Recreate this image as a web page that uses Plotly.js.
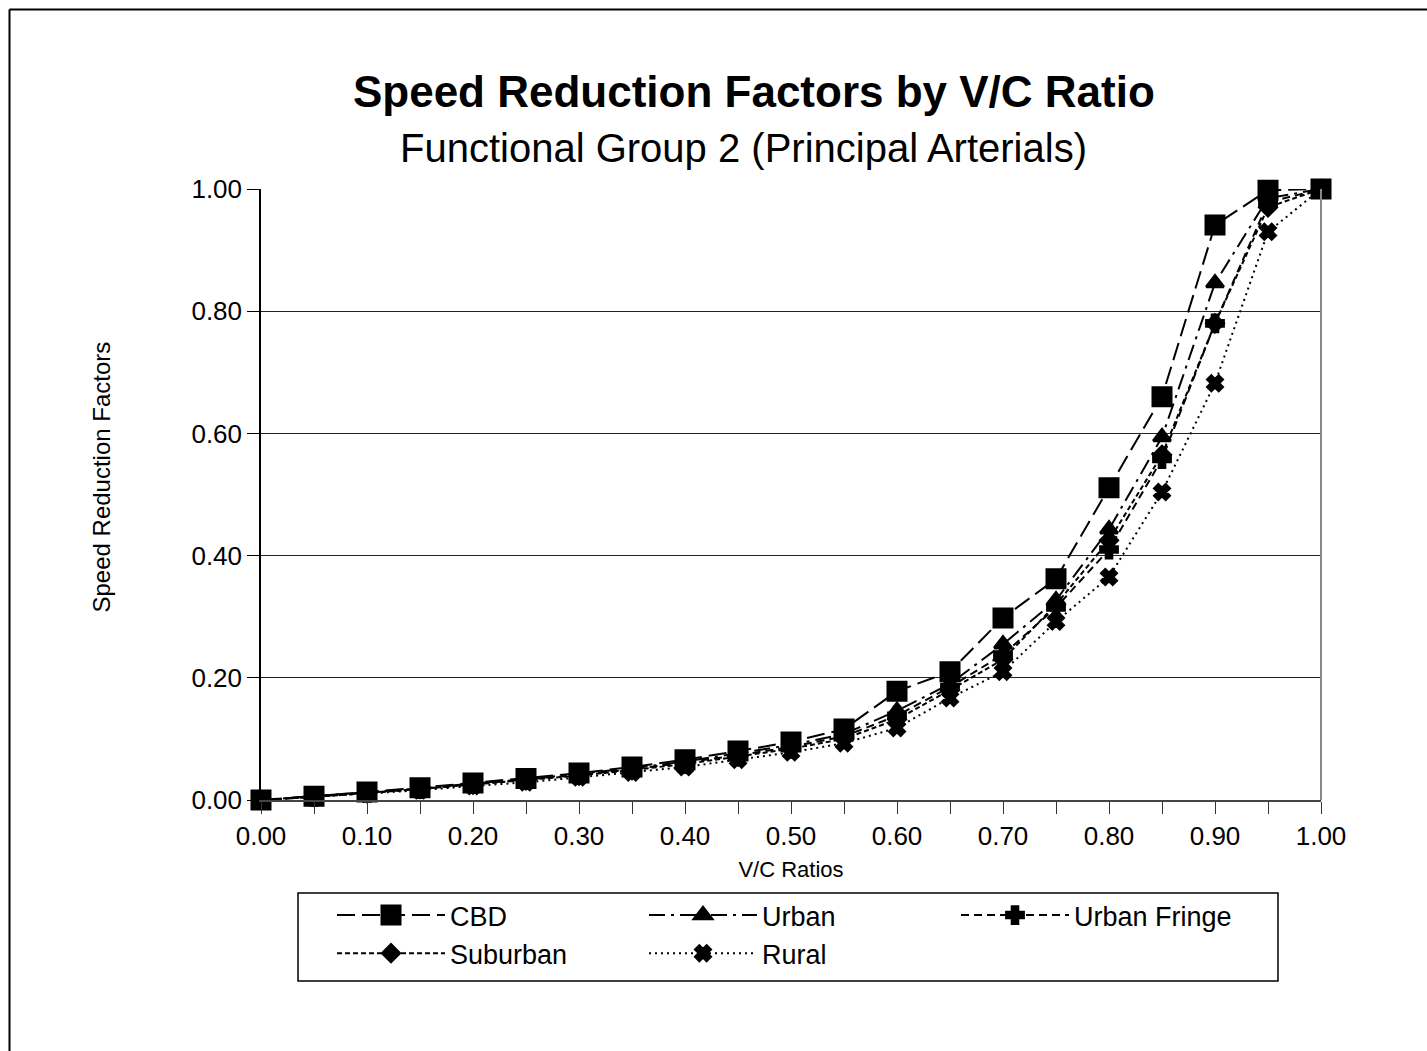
<!DOCTYPE html>
<html>
<head>
<meta charset="utf-8">
<script src="https://cdn.plot.ly/plotly-3.0.1.min.js"></script>
<style>html,body{margin:0;padding:0;background:#fff;}#chart{width:1427px;height:1051px;}</style>
</head>
<body>
<div id="chart"></div>
<script>
const vcRatios = [0.00,0.05,0.10,0.15,0.20,0.25,0.30,0.35,0.40,0.45,0.50,0.55,0.60,0.65,0.70,0.75,0.80,0.85,0.90,0.95,1.00];
const cbd         = [0,0.006,0.013,0.020,0.028,0.035,0.044,0.054,0.066,0.080,0.095,0.116,0.178,0.210,0.298,0.362,0.511,0.660,0.941,0.998,1.000];
const urban       = [0,0.006,0.012,0.019,0.027,0.034,0.043,0.052,0.063,0.076,0.090,0.108,0.146,0.190,0.255,0.327,0.443,0.594,0.846,0.985,1.000];
const urbanFringe = [0,0.005,0.012,0.018,0.026,0.033,0.041,0.050,0.061,0.073,0.087,0.104,0.138,0.185,0.238,0.315,0.410,0.558,0.780,0.978,1.000];
const suburban    = [0,0.005,0.011,0.018,0.025,0.032,0.040,0.049,0.059,0.071,0.084,0.100,0.132,0.180,0.230,0.320,0.425,0.565,0.780,0.970,1.000];
const rural       = [0,0.005,0.010,0.016,0.023,0.029,0.037,0.045,0.054,0.066,0.078,0.093,0.118,0.167,0.210,0.292,0.365,0.504,0.682,0.930,1.000];
const seriesNames = ["CBD","Urban","Urban Fringe","Suburban","Rural"];

const FONT = '"Liberation Sans", Arial, sans-serif';
const styles = [
  {data: cbd,         dash: "18px,7px",             symbol: "square",      size: 16, lw: 5},
  {data: urban,       dash: "16px,6px,3px,6px",     symbol: "triangle-up", size: 15, lw: 3},
  {data: urbanFringe, dash: "8px,5px",              symbol: "cross",       size: 14, lw: 3},
  {data: suburban,    dash: "5px,3px",              symbol: "diamond",     size: 13, lw: 3},
  {data: rural,       dash: "2px,4px",              symbol: "x",           size: 13, lw: 3}
];

const traces = styles.map((s, i) => ({
  type: "scatter",
  mode: "lines+markers",
  name: seriesNames[i],
  x: vcRatios,
  y: s.data,
  cliponaxis: false,
  line: {color: "#000", width: 2, dash: s.dash},
  marker: {symbol: s.symbol, size: s.size, color: "#000", line: {width: s.lw, color: "#000"}}
}));

const layout = {
  width: 1427, height: 1051,
  paper_bgcolor: "#fff", plot_bgcolor: "#fff",
  margin: {l: 261, r: 106, t: 189, b: 251},
  font: {family: FONT, color: "#000"},
  title: {text: "<b>Speed Reduction Factors by V/C Ratio</b>", font: {family: FONT, size: 44, color: "#000"},
          xref: "paper", x: 0.465, xanchor: "center", yref: "container", y: 1 - 92/1051, yanchor: "middle"},
  annotations: [
    {text: "Functional Group 2 (Principal Arterials)", xref: "paper", yref: "paper",
     x: 0.455, y: (800 - 148) / 611, xanchor: "center", yanchor: "middle", showarrow: false,
     font: {family: FONT, size: 40, color: "#000"}},
    {text: "Speed Reduction Factors", xref: "paper", yref: "paper", textangle: -90,
     x: (101 - 261) / 1060, y: (800 - 477.5) / 611, xanchor: "center", yanchor: "middle", showarrow: false,
     font: {family: FONT, size: 24, color: "#000"}}
  ],
  xaxis: {
    range: [0, 1], dtick: 0.1, tickformat: ".2f", ticks: "outside", ticklen: 12, tickcolor: "#333",
    minor: {dtick: 0.05, ticks: "outside", ticklen: 12, tickcolor: "#333"},
    showgrid: false, zeroline: false, showline: true, linecolor: "#444", linewidth: 1.5,
    tickfont: {family: FONT, size: 26, color: "#000"},
    title: {text: "V/C Ratios", font: {family: FONT, size: 22, color: "#000"}, standoff: 12}
  },
  yaxis: {
    range: [0, 1], dtick: 0.2, tickformat: ".2f", ticks: "outside", ticklen: 12, tickcolor: "#000",
    showgrid: true, gridcolor: "#222", gridwidth: 1.2, zeroline: false,
    showline: true, linecolor: "#000", linewidth: 1.5,
    tickfont: {family: FONT, size: 26, color: "#000"}
  },
  showlegend: true,
  legend: {
    orientation: "h", x: (332 - 261) / 1060, xanchor: "left", y: (800 - 891) / 611, yanchor: "top",
    bgcolor: "rgba(0,0,0,0)", borderwidth: 0, itemwidth: 108,
    entrywidth: 189, entrywidthmode: "pixels", tracegroupgap: 0,
    font: {family: FONT, size: 27, color: "#000"}
  },
  shapes: [
    {type: "rect", xref: "paper", yref: "paper", x0: (298 - 261)/1060, x1: (1278 - 261)/1060,
     y0: (800 - 893)/611, y1: (800 - 981)/611, line: {color: "#000", width: 1.5}},
    {type: "line", xref: "paper", yref: "paper", x0: 1, x1: 1, y0: 0, y1: 1, line: {color: "#888", width: 2}},
    {type: "line", xref: "paper", yref: "paper", x0: (9.5 - 261)/1060, x1: (1500 - 261)/1060,
     y0: (800 - 9.5)/611, y1: (800 - 9.5)/611, line: {color: "#000", width: 2}},
    {type: "line", xref: "paper", yref: "paper", x0: (9.5 - 261)/1060, x1: (9.5 - 261)/1060,
     y0: (800 - 9.5)/611, y1: (800 - 1100)/611, line: {color: "#000", width: 2}}
  ]
};

Plotly.newPlot("chart", traces, layout, {displayModeBar: false, responsive: false});
</script>
</body>
</html>
